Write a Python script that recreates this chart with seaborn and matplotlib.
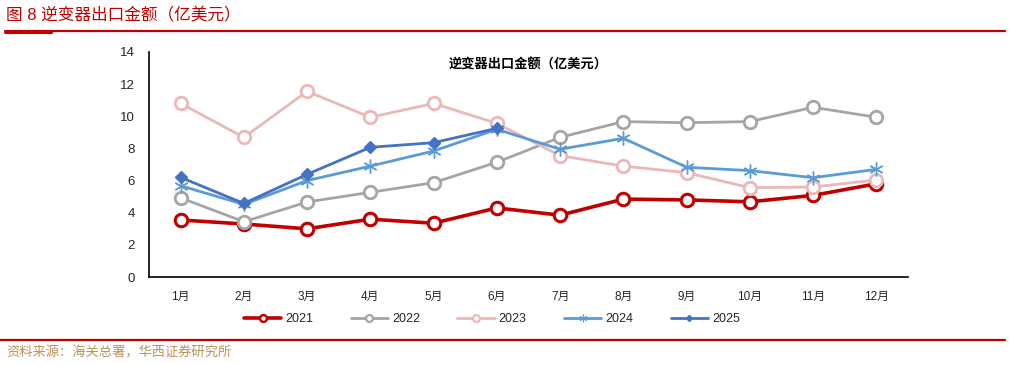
import numpy as np
import pandas as pd
import matplotlib
matplotlib.use("Agg")
import matplotlib.pyplot as plt
import seaborn as sns
from matplotlib.lines import Line2D

# dados
meses = ["1月", "2月", "3月", "4月", "5月", "6月", "7月", "8月", "9月", "10月", "11月", "12月"]
v2021 = [3.55, 3.3, 3.0, 3.6, 3.35, 4.3, 3.85, 4.85, 4.8, 4.68, 5.08, 5.8]
v2022 = [4.93, 3.44, 4.67, 5.27, 5.87, 7.14, 8.69, 9.67, 9.6, 9.67, 10.56, 9.94]
v2023 = [10.8, 8.69, 11.55, 9.94, 10.8, 9.56, 7.55, 6.9, 6.49, 5.56, 5.6, 6.04]
v2024 = [5.68, 4.52, 6.0, 6.9, 7.84, 9.19, 7.95, 8.63, 6.83, 6.62, 6.18, 6.7]
v2025 = [6.2, 4.58, 6.39, 8.07, 8.36, 9.25]

anos = ["2021", "2022", "2023", "2024", "2025"]
valores = [v2021, v2022, v2023, v2024, v2025]

sns.set_style("white")
plt.rcParams["font.family"] = ["Liberation Sans", "Noto Sans CJK SC", "DejaVu Sans"]

# estilos de cada série
estilos = {
    "2021": dict(color="#C00000", lw=2.6, marker="o", ms=9, mfc="white", mew=2.2),
    "2022": dict(color="#A5A5A5", lw=2.0, marker="o", ms=9, mfc="white", mew=2.0),
    "2023": dict(color="#EBB8B8", lw=2.0, marker="o", ms=9, mfc="white", mew=2.0),
    "2024": dict(color="#5B9BD5", lw=2.0, marker=(6, 2, 0), ms=10, mfc="none", mew=1.0),
    "2025": dict(color="#4472C4", lw=2.0, marker="D", ms=6, mfc="#4472C4", mew=1.0),
}

linhas = []
for ano, vals in zip(anos, valores):
    for i, v in enumerate(vals):
        linhas.append({"ano": ano, "pos": i, "valor": v})
df = pd.DataFrame(linhas)

fig = plt.figure(figsize=(10.1, 3.66), dpi=100)
ax = fig.add_axes([0.1475, 0.243, 0.7515, 0.615])

for ano in anos:
    e = estilos[ano]
    d = df[df["ano"] == ano]
    sns.lineplot(ax=ax, data=d, x="pos", y="valor", color=e["color"], linewidth=e["lw"],
                 marker=e["marker"], markersize=e["ms"], markerfacecolor=e["mfc"],
                 markeredgecolor=e["color"], markeredgewidth=e["mew"], zorder=3)

ax.set_xlim(-0.5, len(meses) - 0.5)
ax.set_ylim(0, 14)
ax.set_yticks(np.arange(0, 15, 2))
ax.set_xticks(np.arange(len(meses)))
ax.set_xticklabels(meses, fontsize=8.5)
ax.set_xticks(np.arange(-0.5, len(meses), 1), minor=True)
ax.tick_params(axis="x", which="major", length=0, pad=10)
ax.tick_params(axis="x", which="minor", length=3, width=1, direction="in", color="black")
ax.tick_params(axis="y", labelsize=9.5, length=3, width=1, direction="in", color="black", pad=10)
ax.set_xlabel("")
ax.set_ylabel("")
for s in ["top", "right"]:
    ax.spines[s].set_visible(False)
for s in ["left", "bottom"]:
    ax.spines[s].set_color("black")
    ax.spines[s].set_linewidth(1.2)

ax.text(0.5, 0.97, "逆变器出口金额（亿美元）", transform=ax.transAxes, ha="center", va="top",
        fontsize=9.5, fontweight="bold", color="black")

# legenda
handles = []
for ano in anos:
    e = estilos[ano]
    handles.append(Line2D([0], [0], color=e["color"], lw=e["lw"], marker=e["marker"],
                          markersize=e["ms"] * 0.55, markerfacecolor=e["mfc"],
                          markeredgecolor=e["color"], markeredgewidth=e["mew"] * 0.8))
fig.legend(handles, anos, loc="center", bbox_to_anchor=(0.487, 0.128), ncol=5, frameon=False,
           fontsize=9, handlelength=3.0, columnspacing=3.0, handletextpad=0.3)

# cabeçalho e rodapé
fig.text(0.006, 0.958, "图 8 逆变器出口金额（亿美元）", color="#C00000", fontsize=12,
         ha="left", va="center")
fig.add_artist(Line2D([0.005, 0.995], [0.915, 0.915], color="#C00000", lw=1.6))
fig.add_artist(Line2D([0.005, 0.05], [0.913, 0.913], color="#C00000", lw=2.2))
fig.add_artist(Line2D([0.0, 0.995], [0.071, 0.071], color="#C00000", lw=1.6))
fig.text(0.006, 0.035, "资料来源：海关总署，华西证券研究所", color="#B8925A", fontsize=9.5,
         ha="left", va="center")

fig.savefig("out.png", dpi=100)
